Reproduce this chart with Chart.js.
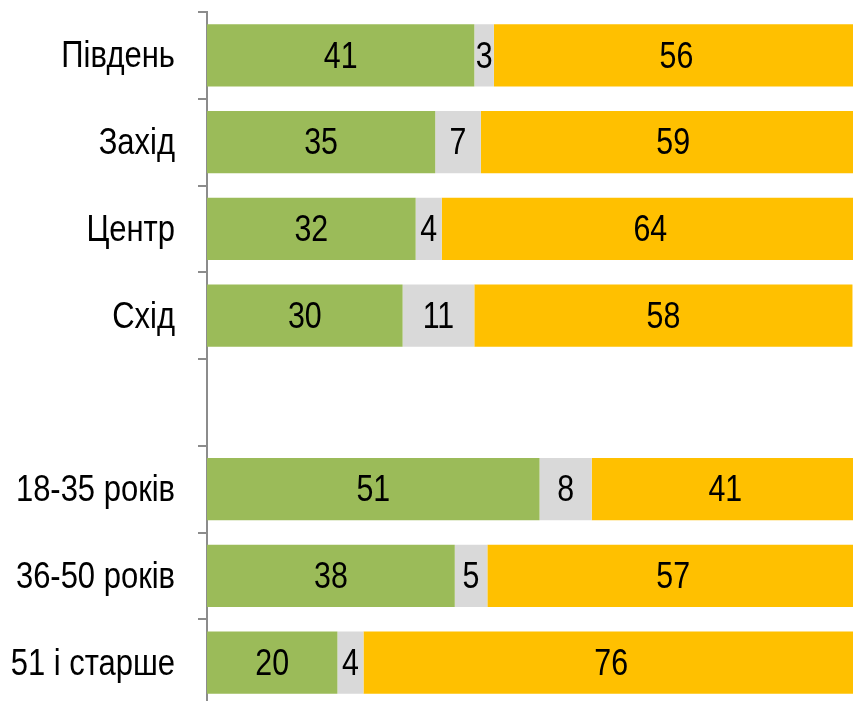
<!DOCTYPE html>
<html lang="uk">
<head>
  <meta charset="UTF-8" />
  <title>Розподіл відповідей за регіонами та віком</title>
  <script src="https://cdn.jsdelivr.net/npm/chart.js"></script>
  <style>
    html, body {
      margin: 0;
      padding: 0;
      background: #fff;
      overflow: hidden;
    }
    .wrap {
      position: absolute;
      left: 0;
      top: 0;
      width: 863px;
      height: 706px;
    }
  </style>
</head>
<body>
<div class="wrap">
  <canvas id="stackChart"></canvas>
</div>

<script>
  // рядки діаграми (порожній рядок — розрив між регіонами та віковими групами)
  const categories = ["Південь", "Захід", "Центр", "Схід", "", "18-35 років", "36-50 років", "51 і старше"];
  const greenValues = [41, 35, 32, 30, null, 51, 38, 20];
  const greyValues = [3, 7, 4, 11, null, 8, 5, 4];
  const yellowValues = [56, 59, 64, 58, null, 41, 57, 76];

  const FONT = "'Liberation Sans', Arial, sans-serif";

  // стиснений по горизонталі текст, як у вузькому шрифті
  function narrowText(ctx, text, x, y, k) {
    ctx.save();
    ctx.translate(x, y);
    ctx.scale(k, 1);
    ctx.fillText(text, 0, 0);
    ctx.restore();
  }

  // підписи значень по центру сегментів і назви рядків зліва від осі
  const narrowLabels = {
    id: "narrowLabels",
    afterDatasetsDraw(chart) {
      const ctx = chart.ctx;
      ctx.save();
      ctx.fillStyle = "#000";
      ctx.textBaseline = "middle";

      ctx.font = "37px " + FONT;
      ctx.textAlign = "center";
      chart.data.datasets.forEach((ds, i) => {
        chart.getDatasetMeta(i).data.forEach((bar, j) => {
          const v = ds.data[j];
          if (v == null) return;
          const p = bar.getCenterPoint();
          narrowText(ctx, String(v), p.x, p.y + 2, 0.82);
        });
      });

      const yScale = chart.scales.y;
      ctx.font = "36px " + FONT;
      ctx.textAlign = "right";
      chart.data.labels.forEach((label, i) => {
        if (!label) return;
        narrowText(ctx, label, yScale.right - 32, yScale.getPixelForTick(i) + 2, 0.86);
      });
      ctx.restore();
    }
  };

  new Chart(document.getElementById("stackChart"), {
    type: "bar",
    data: {
      labels: categories,
      datasets: [
        { data: greenValues, backgroundColor: "#9BBB59" },
        { data: greyValues, backgroundColor: "#D9D9D9" },
        { data: yellowValues, backgroundColor: "#FFC000" }
      ]
    },
    options: {
      indexAxis: "y",
      responsive: true,
      maintainAspectRatio: false,
      animation: false,
      layout: { padding: { top: 12, right: 4, bottom: 0, left: 0 } },
      datasets: {
        bar: { categoryPercentage: 1, barPercentage: 0.715, borderWidth: 0 }
      },
      plugins: {
        legend: { display: false },
        tooltip: { enabled: false }
      },
      scales: {
        x: {
          stacked: true,
          min: 0,
          max: 100,
          display: false
        },
        y: {
          stacked: true,
          afterFit(scale) {
            scale.width = 207;
            scale.paddingTop = 0;
            scale.paddingBottom = 0;
          },
          grid: {
            offset: true,
            drawOnChartArea: false,
            drawTicks: true,
            tickLength: 9,
            color: "#8c8c8c",
            lineWidth: 2
          },
          border: { display: true, color: "#8c8c8c", width: 2 },
          ticks: { display: false }
        }
      }
    },
    plugins: [narrowLabels]
  });
</script>
</body>
</html>
